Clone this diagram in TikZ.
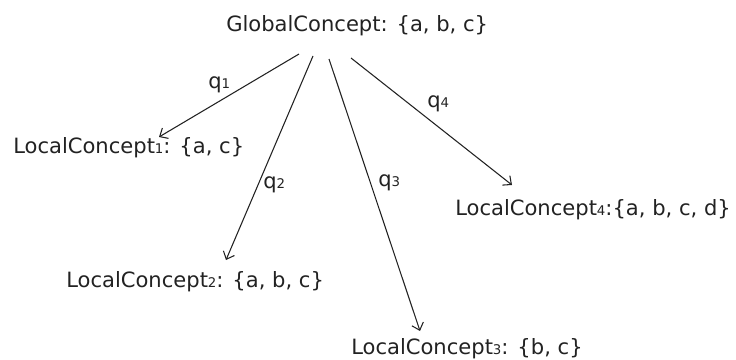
\documentclass[tikz,border=0pt]{standalone}
\usepackage{fontspec}
\setmainfont{DejaVu Sans}
\usetikzlibrary{arrows.meta}
\definecolor{ink}{HTML}{222222}
\newcommand{\dg}[1]{{\fontsize{10}{10}\selectfont #1}}
\tikzset{
  txt/.style={anchor=base west, inner sep=0pt, text=ink, font=\fontsize{15.8}{19}\selectfont},
  arr/.style={draw=ink, line width=0.8pt, -{Straight Barb[length=5pt,width=9pt]}}
}
\begin{document}
\begin{tikzpicture}[x=0.75pt,y=-0.75pt]
\useasboundingbox (0,0) rectangle (736,360);
\node[txt] (g) at (226,32) {GlobalConcept: \{a, b, c\}};
\node[txt] (l1) at (13,153) {LocalConcept\dg{1}: \{a, c\}};
\node[txt] (l2) at (66,287) {LocalConcept\dg{2}: \{a, b, c\}};
\node[txt] (l3) at (351,354) {LocalConcept\dg{3}: \{b, c\}};
\node[txt] (l4) at (455,215) {LocalConcept\dg{4}:\{a, b, c, d\}};
\node[txt] (q1) at (208,89) {q\dg{1}};
\node[txt] (q2) at (263,188) {q\dg{2}};
\node[txt] (q3) at (378,186) {q\dg{3}};
\node[txt] (q4) at (427,108) {q\dg{4}};
\draw[arr] ([shift={(73,22)}]g.base west) -- ([shift={(146,-16)}]l1.base west);
\draw[arr] ([shift={(87,24)}]g.base west) -- ([shift={(160,-27)}]l2.base west);
\draw[arr] ([shift={(103,27)}]g.base west) -- ([shift={(69,-23)}]l3.base west);
\draw[arr] ([shift={(125,26)}]g.base west) -- ([shift={(57,-30)}]l4.base west);
\end{tikzpicture}
\end{document}
